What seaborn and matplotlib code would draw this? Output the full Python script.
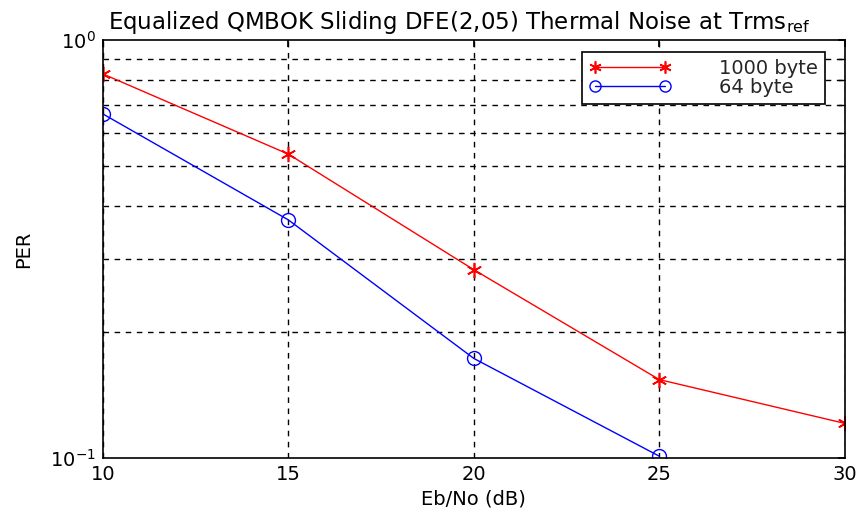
import matplotlib
matplotlib.use("Agg")
import matplotlib.pyplot as plt
import seaborn as sns
import pandas as pd
import numpy as np
from matplotlib.ticker import FixedLocator, NullFormatter, FixedFormatter

ebno = [10, 15, 20, 25, 30]
per_1000 = [0.829, 0.533, 0.282, 0.154, 0.121]
ebno_64 = [10, 15, 20, 25]
per_64 = [0.665, 0.371, 0.173, 0.101]

sns.set_theme(style="white")
plt.rcParams['font.family'] = ['DejaVu Sans']
plt.rcParams['mathtext.fontset'] = 'dejavusans'

fig = plt.figure(figsize=(8.62, 5.12), dpi=100)
ax = fig.add_axes([0.1195, 0.1055, 0.8605, 0.8165])

df1 = pd.DataFrame({"x": ebno, "y": per_1000})
df2 = pd.DataFrame({"x": ebno_64, "y": per_64})
sns.lineplot(data=df1, x="x", y="y", ax=ax, color="red", marker=(6, 2, 0), markersize=11,
             markeredgecolor="red", markeredgewidth=1.2, linewidth=1, label="1000 byte")
sns.lineplot(data=df2, x="x", y="y", ax=ax, color="blue", marker="o", markersize=10,
             markerfacecolor="none", markeredgecolor="blue", markeredgewidth=1,
             linewidth=1, label="64 byte")

ax.set_yscale("log")
ax.set_xlim(10, 30)
ax.set_ylim(0.1, 1.0)
ax.set_xticks([10, 15, 20, 25, 30])
ax.set_xticklabels(["10", "15", "20", "25", "30"])
ax.yaxis.set_major_locator(FixedLocator([0.1, 1.0]))
ax.yaxis.set_major_formatter(FixedFormatter([r"10$^{-1}$", r"10$^{0}$"]))
ax.yaxis.set_minor_locator(FixedLocator([0.2, 0.3, 0.4, 0.5, 0.6, 0.7, 0.8, 0.9]))
ax.yaxis.set_minor_formatter(NullFormatter())

ax.grid(True, which="major", axis="x", linestyle=(0, (4, 4)), color="black", linewidth=1)
ax.grid(True, which="minor", axis="y", linestyle=(0, (4, 4)), color="black", linewidth=1)
for s in ax.spines.values():
    s.set_color("black")
    s.set_linewidth(1.2)
    s.set_visible(True)
ax.tick_params(axis="both", which="both", direction="in", colors="black", labelsize=14, length=5,
               right=True, top=True)
ax.tick_params(axis="x", which="major", pad=5)
ax.tick_params(axis="y", which="major", pad=5)

ax.set_xlabel("Eb/No (dB)", fontsize=14, color="black", labelpad=4)
ax.set_ylabel("PER", fontsize=14, color="black", labelpad=12)
ax.set_title(r"Equalized QMBOK Sliding DFE(2,05) Thermal Noise at Trms$_{\mathregular{ref}}$",
             fontsize=16.5, color="black", pad=8, x=0.48)

leg = ax.legend(loc="upper right", bbox_to_anchor=(0.973, 0.971), fontsize=14,
                frameon=True, fancybox=False, edgecolor="black", framealpha=1,
                numpoints=2, markerscale=0.8, handlelength=4.2, borderpad=0.35,
                labelspacing=0.0, handletextpad=2.5, borderaxespad=0)
leg.get_frame().set_linewidth(1.2)

fig.savefig("out.png", dpi=100, facecolor="white")
